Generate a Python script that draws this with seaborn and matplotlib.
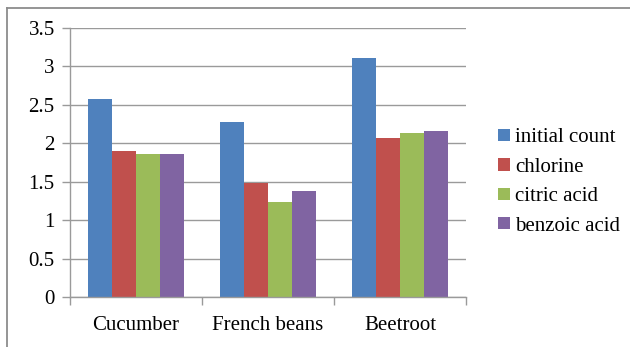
import matplotlib
matplotlib.use("Agg")
import matplotlib.pyplot as plt
from matplotlib.lines import Line2D
from matplotlib.text import Text
from matplotlib.font_manager import FontProperties
import seaborn as sns
import pandas as pd

vegetables = ["Cucumber", "French beans", "Beetroot"]
treatments = ["initial count", "chlorine", "citric acid", "benzoic acid"]
initial_count = [2.58, 2.28, 3.11]
chlorine = [1.90, 1.48, 2.07]
citric_acid = [1.86, 1.24, 2.13]
benzoic_acid = [1.86, 1.38, 2.16]
y_ticks = [0, 0.5, 1, 1.5, 2, 2.5, 3, 3.5]
y_tick_labels = ["0", "0.5", "1", "1.5", "2", "2.5", "3", "3.5"]
colors = ["#4F81BD", "#C0504D", "#9BBB59", "#8064A2"]

series = [initial_count, chlorine, citric_acid, benzoic_acid]
rows = []
for name, values in zip(treatments, series):
    for veg, v in zip(vegetables, values):
        rows.append({"vegetable": veg, "treatment": name, "count": v})
df = pd.DataFrame(rows)

SERIF = "Liberation Serif"
plt.rcParams["font.family"] = SERIF
plt.rcParams["axes.facecolor"] = "white"

fig = plt.figure(figsize=(6.30, 3.47), dpi=100)
ax = fig.add_axes([70 / 630, 1 - 297 / 347, 396 / 630, 269 / 347])

sns.barplot(data=df, x="vegetable", y="count", hue="treatment",
            order=vegetables, hue_order=treatments, palette=colors,
            saturation=1, width=0.727, linewidth=0, errorbar=None,
            legend=False, ax=ax)

grid_color = "#9A9A9A"
ax.set_ylim(0, 3.5)
ax.set_xlim(-0.5, 2.5)
ax.yaxis.grid(True, color=grid_color, linewidth=1)
ax.xaxis.grid(False)
ax.set_axisbelow(True)
ax.set_xlabel("")
ax.set_ylabel("")

for side in ["top", "right"]:
    ax.spines[side].set_visible(False)
for side in ["left", "bottom"]:
    ax.spines[side].set_color(grid_color)
    ax.spines[side].set_linewidth(1)

ax.tick_params(axis="y", which="major", left=True, length=6, width=1,
               color=grid_color, pad=5, labelcolor="black")
ax.tick_params(axis="x", which="major", bottom=False, length=0, pad=14,
               labelcolor="black")
ax.set_xticks([-0.5, 0.5, 1.5, 2.5], minor=True)
ax.tick_params(axis="x", which="minor", bottom=True, length=6, width=1,
               color=grid_color)

ax.set_yticks(y_ticks)
ax.set_yticklabels(y_tick_labels, fontsize=15)
ax.set_xticks(range(len(vegetables)))
ax.set_xticklabels(vegetables, fontsize=15)

handles = [plt.Rectangle((0, 0), 1, 1, facecolor=c, edgecolor="none") for c in colors]
fig.legend(handles, treatments, loc="upper left",
           bbox_to_anchor=(490 / 630, 1 - 120 / 347), frameon=False,
           prop=FontProperties(family=SERIF, size=15),
           handlelength=0.55, handleheight=0.55,
           handletextpad=0.25, labelspacing=0.5, borderaxespad=0)

# outer chart-area frame (left and top edges)
frame_color = "#8C8C8C"
fig.add_artist(Line2D([7 / 630, 7 / 630], [0, 1 - 8 / 347],
                      transform=fig.transFigure, color=frame_color, linewidth=1.3))
fig.add_artist(Line2D([7 / 630, 1], [1 - 8 / 347, 1 - 8 / 347],
                      transform=fig.transFigure, color=frame_color, linewidth=1.3))

# serif face on every text in the figure
fig.canvas.draw()
for t in fig.findobj(Text):
    t.set_fontfamily(SERIF)

fig.savefig("out.png", dpi=100, facecolor="white")
